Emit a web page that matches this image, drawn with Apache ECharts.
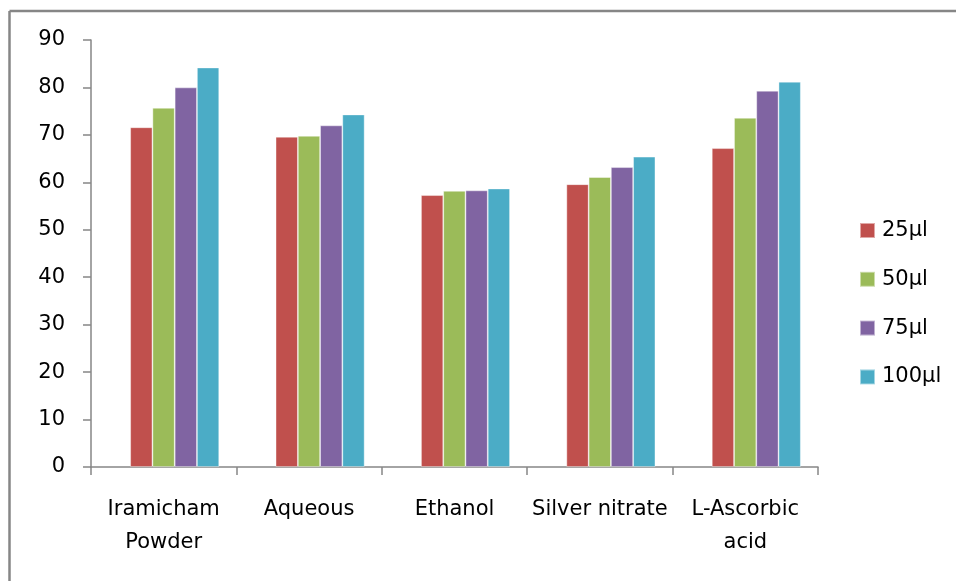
<!DOCTYPE html>
<html>
<head>
<meta charset="utf-8">
<script src="https://cdn.jsdelivr.net/npm/echarts@6/dist/echarts.min.js"></script>
<style>
html,body{margin:0;padding:0;background:#fff;}
#chart{width:956px;height:581px;}
</style>
</head>
<body>
<div id="chart"></div>
<script>
const categories = ['Iramicham\nPowder', 'Aqueous', 'Ethanol', 'Silver nitrate', 'L-Ascorbic\nacid'];
const seriesNames = ['25µl', '50µl', '75µl', '100µl'];
const values25 = [71.6, 69.6, 57.3, 59.6, 67.2];
const values50 = [75.7, 69.8, 58.2, 61.1, 73.6];
const values75 = [80.0, 72.0, 58.3, 63.2, 79.3];
const values100 = [84.2, 74.3, 58.7, 65.4, 81.2];
const colors = ['#C0504D', '#9BBB59', '#8064A2', '#4BACC6'];
const yTicks = {min: 0, max: 90, interval: 10};

const font = '"DejaVu Sans", sans-serif';
const allValues = [values25, values50, values75, values100];
const axisGray = '#868686';

const chart = echarts.init(document.getElementById('chart'), null, {renderer: 'canvas'});
chart.setOption({
  animation: false,
  backgroundColor: '#ffffff',
  textStyle: {fontFamily: font},
  grid: [
    {left: 91, right: 138, top: 40, bottom: 114, containLabel: false},
    {left: 102, right: 127, top: 40, bottom: 114, containLabel: false}
  ],
  legend: {
    orient: 'vertical',
    left: 854,
    top: 215,
    itemWidth: 15,
    itemHeight: 15,
    itemGap: 27.8,
    icon: 'rect',
    textStyle: {fontFamily: font, fontSize: 21, color: '#000', lineHeight: 20, padding: [0, 0, 0, 2]},
    data: seriesNames
  },
  xAxis: [
    {
      type: 'category',
      gridIndex: 0,
      data: categories,
      axisLine: {lineStyle: {color: axisGray, width: 1.5}},
      axisTick: {show: true, length: 8, lineStyle: {color: axisGray, width: 1.5}},
      axisLabel: {fontFamily: font, fontSize: 21, color: '#000', margin: 26.5, lineHeight: 33, interval: 0},
      splitLine: {show: false}
    },
    {
      type: 'category',
      gridIndex: 1,
      data: categories,
      show: false
    }
  ],
  yAxis: [
    {
      type: 'value',
      gridIndex: 0,
      min: yTicks.min, max: yTicks.max, interval: yTicks.interval,
      axisLine: {show: true, lineStyle: {color: axisGray, width: 1.5}},
      axisTick: {show: true, length: 8, lineStyle: {color: axisGray, width: 1.5}},
      axisLabel: {fontFamily: font, fontSize: 21, color: '#000', margin: 26},
      splitLine: {show: false}
    },
    {
      type: 'value',
      gridIndex: 1,
      min: yTicks.min, max: yTicks.max, interval: yTicks.interval,
      show: false,
      splitLine: {show: false}
    }
  ],
  series: seriesNames.map((name, i) => ({
    name: name,
    type: 'bar',
    xAxisIndex: 1,
    yAxisIndex: 1,
    data: allValues[i],
    barGap: '0%',
    barCategoryGap: '38.8%',
    itemStyle: {color: colors[i], borderColor: 'rgba(255,255,255,0.5)', borderWidth: 0.8}
  })),
  graphic: [
    {type: 'line', z: 100, shape: {x1: 9.5, y1: 11, x2: 956, y2: 11}, style: {stroke: axisGray, lineWidth: 2.5}},
    {type: 'line', z: 100, shape: {x1: 9.5, y1: 11, x2: 9.5, y2: 581}, style: {stroke: axisGray, lineWidth: 2.5}}
  ]
});
</script>
</body>
</html>
